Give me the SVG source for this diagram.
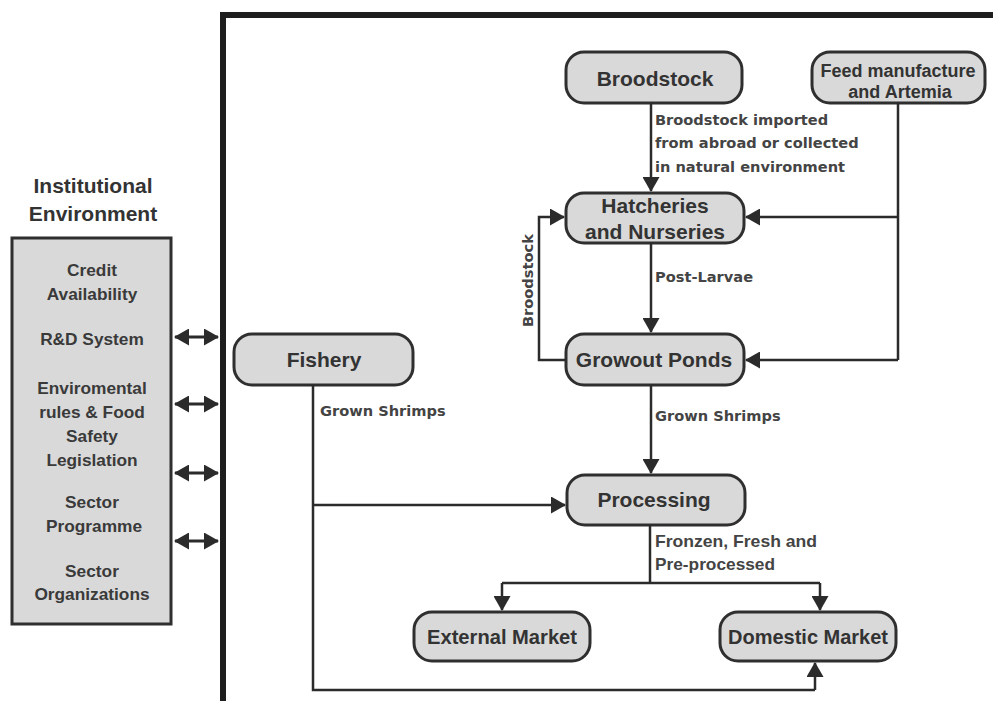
<svg xmlns="http://www.w3.org/2000/svg" width="993" height="701" viewBox="0 0 993 701">
<defs>
<marker id="ah" markerUnits="userSpaceOnUse" markerWidth="15" markerHeight="17" refX="14" refY="8.5" orient="auto-start-reverse" viewBox="0 0 15 17">
<path d="M0,0 L15,8.5 L0,17 z" fill="#2b2b2b"/>
</marker>
<style>
.node rect{fill:#d9d9d9;stroke:#2f2f2f;stroke-width:3}
.nt{font-family:"Liberation Sans",Arial,sans-serif;font-weight:bold;font-size:21px;fill:#333;text-anchor:middle}
.ft{font-size:18px}
.lb{font-family:"DejaVu Sans",Verdana,sans-serif;font-weight:bold;font-size:14.6px;fill:#444}
.lc{font-family:"Liberation Sans",Arial,sans-serif;font-weight:bold;font-size:16.5px;fill:#444}
.bt{font-family:"Liberation Sans",Arial,sans-serif;font-weight:bold;font-size:17.3px;fill:#3a3a3a;text-anchor:middle}
.c{fill:none;stroke:#2b2b2b;stroke-width:2.5}
.ca{fill:none;stroke:#2b2b2b;stroke-width:2.5;marker-end:url(#ah)}
.cd{fill:none;stroke:#2b2b2b;stroke-width:3;marker-start:url(#ah);marker-end:url(#ah)}
</style>
</defs>
<rect width="993" height="701" fill="#ffffff"/>
<path d="M223,701 V15 H993" fill="none" stroke="#1e1e1e" stroke-width="6"/>

<g id="institutional">
<text class="nt" x="93" y="193">Institutional</text>
<text class="nt" x="93" y="221">Environment</text>
<rect x="12" y="238" width="159" height="386" fill="#d9d9d9" stroke="#2f2f2f" stroke-width="3"/>
<text class="bt" x="92" y="276">Credit</text>
<text class="bt" x="92" y="300">Availability</text>
<text class="bt" x="92" y="345">R&amp;D System</text>
<text class="bt" x="92" y="394">Enviromental</text>
<text class="bt" x="92" y="418">rules &amp; Food</text>
<text class="bt" x="92" y="442">Safety</text>
<text class="bt" x="92" y="466">Legislation</text>
<text class="bt" x="92" y="508">Sector</text>
<text class="bt" x="94" y="532">Programme</text>
<text class="bt" x="92" y="577">Sector</text>
<text class="bt" x="92" y="600">Organizations</text>
</g>

<g id="broodstock" class="node"><rect x="566" y="52" width="176" height="51" rx="18"/><text class="nt" x="655" y="86">Broodstock</text></g>
<g id="feed" class="node"><rect x="812" y="52" width="173" height="51" rx="18"/><text class="nt ft" x="898" y="77">Feed manufacture</text><text class="nt ft" x="900" y="98">and Artemia</text></g>
<g id="hatcheries" class="node"><rect x="566" y="193" width="178" height="50" rx="18"/><text class="nt" x="655" y="213">Hatcheries</text><text class="nt" x="655" y="239">and Nurseries</text></g>
<g id="growout" class="node"><rect x="566" y="334" width="178" height="51" rx="18"/><text class="nt" x="654" y="367">Growout Ponds</text></g>
<g id="fishery" class="node"><rect x="234" y="334" width="179" height="51" rx="18"/><text class="nt" x="324" y="367">Fishery</text></g>
<g id="processing" class="node"><rect x="567" y="475" width="178" height="50" rx="18"/><text class="nt" x="654" y="507">Processing</text></g>
<g id="external" class="node"><rect x="414" y="612" width="176" height="49" rx="18"/><text class="nt" x="502" y="644" textLength="150" lengthAdjust="spacingAndGlyphs">External Market</text></g>
<g id="domestic" class="node"><rect x="720" y="612" width="176" height="49" rx="18"/><text class="nt" x="808" y="644" textLength="160" lengthAdjust="spacingAndGlyphs">Domestic Market</text></g>

<g id="connectors">
<path class="cd" d="M175,337 H218"/>
<path class="cd" d="M175,404 H218"/>
<path class="cd" d="M175,473 H218"/>
<path class="cd" d="M175,541 H218"/>
<path class="ca" d="M651,103 V191"/>
<path class="c" d="M898,103 V360"/>
<path class="ca" d="M898,217 H746"/>
<path class="ca" d="M898,360 H746"/>
<path class="ca" d="M651,243 V332"/>
<path class="ca" d="M566,360 H539 V217 H564"/>
<path class="ca" d="M651,385 V473"/>
<path class="c" d="M313,385 V690 H815"/>
<path class="ca" d="M815,690 V663"/>
<path class="ca" d="M313,505 H565"/>
<path class="c" d="M650,525 V583"/>
<path class="c" d="M502,583 H820"/>
<path class="ca" d="M502,583 V610"/>
<path class="ca" d="M820,583 V610"/>
</g>

<g id="labels">
<text class="lb" x="655" y="125">Broodstock imported</text>
<text class="lb" x="655" y="148">from abroad or collected</text>
<text class="lb" x="655" y="172">in natural environment</text>
<text class="lb" x="655" y="282">Post-Larvae</text>
<text class="lb" x="655" y="421">Grown Shrimps</text>
<text class="lb" x="320" y="416">Grown Shrimps</text>
<text class="lb" transform="translate(533,327) rotate(-90)">Broodstock</text>
<text class="lc" x="655" y="547" textLength="162" lengthAdjust="spacingAndGlyphs">Fronzen, Fresh and</text>
<text class="lc" x="655" y="570" textLength="120" lengthAdjust="spacingAndGlyphs">Pre-processed</text>
</g>
</svg>
